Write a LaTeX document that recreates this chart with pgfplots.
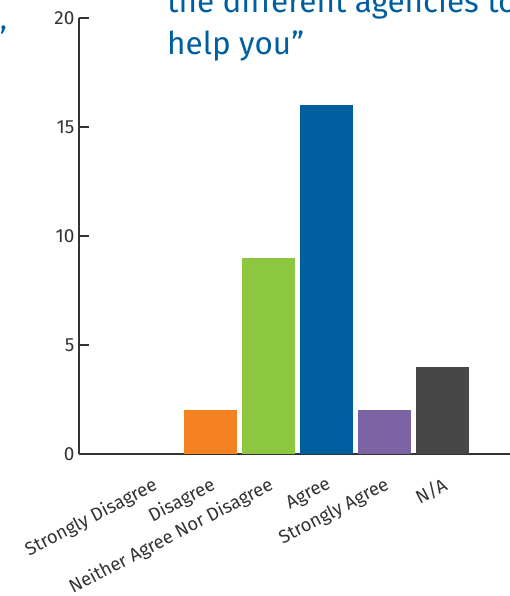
\documentclass[border=0pt]{standalone}
\usepackage{pgfplots}
\pgfplotsset{compat=1.18}
\usepackage{fontspec}
\setmainfont{Fira Sans}
\definecolor{cOrange}{RGB}{245,130,32}
\definecolor{cGreen}{RGB}{141,198,63}
\definecolor{cBlue}{RGB}{0,93,158}
\definecolor{cPurple}{RGB}{124,99,163}
\definecolor{cGray}{RGB}{71,71,72}
\definecolor{cText}{RGB}{51,51,51}
\definecolor{cTitle}{RGB}{0,95,160}
\begin{document}
\begin{tikzpicture}
\useasboundingbox (0,0) rectangle (510pt,596pt);
\clip (0,0) rectangle (510pt,596pt);
\begin{axis}[
  at={(79pt,142pt)}, anchor=south west,
  scale only axis, width=450pt, height=436pt,
  xmin=-1.259, xmax=6.5, ymin=0, ymax=20,
  axis x line*=bottom, axis y line*=left,
  axis line style={cText, line width=1.3pt},
  ybar, bar width=53pt, bar shift=0pt,
  xtick={0,1,2,3,4,5},
  xticklabels={Strongly Disagree,Disagree,Neither Agree Nor Disagree,Agree,Strongly Agree,N/A},
  xtick style={draw=none},
  xticklabel style={rotate=27.5, anchor=north east, xshift=-7pt, yshift=-16pt, font=\fontsize{18.5}{22}\selectfont, text=cText},
  ytick={0,5,10,15,20},
  ytick style={cText, line width=1.3pt},
  major tick length=10pt, tick align=inside,
  yticklabel style={font=\fontsize{19}{22}\selectfont, text=cText, xshift=-1pt},
  /pgf/number format/assume math mode=true,
  clip=false,
]
\addplot[fill=cGray, draw=none] coordinates {(0,0)};
\addplot[fill=cOrange, draw=none] coordinates {(1,2)};
\addplot[fill=cGreen, draw=none] coordinates {(2,9)};
\addplot[fill=cBlue, draw=none] coordinates {(3,16)};
\addplot[fill=cPurple, draw=none] coordinates {(4,2)};
\addplot[fill=cGray, draw=none] coordinates {(5,4)};
\end{axis}
\node[anchor=base west, inner sep=0pt, text=cTitle, font=\fontsize{31.5}{38}\selectfont] at (167pt,583pt) {the different agencies to};
\node[anchor=base west, inner sep=0pt, text=cTitle, font=\fontsize{31.5}{38}\selectfont] at (167pt,541pt) {help you”};
\node[anchor=base east, inner sep=0pt, text=cTitle, font=\fontsize{31.5}{38}\selectfont] at (7pt,546pt) {you”};
\end{tikzpicture}
\end{document}
